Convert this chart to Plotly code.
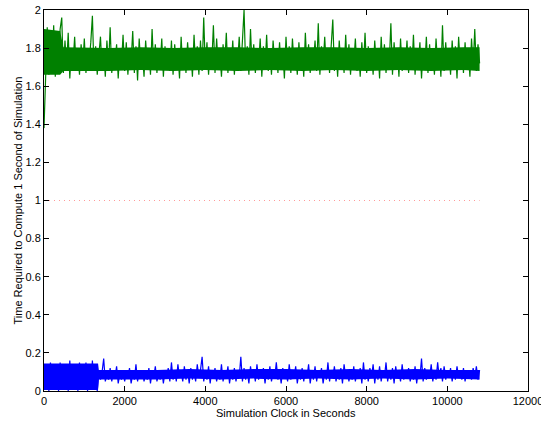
import plotly.graph_objects as go

# Sampling interval of the logged simulation (seconds)
sample_step = 40

green_series = [
    1.38, 1.72, 1.91, 1.66, 1.88, 1.70, 1.92, 1.65, 1.86, 1.69,
    1.90, 1.96, 1.67, 1.84, 1.70, 1.88, 1.64, 1.80, 1.72, 1.86,
    1.68, 1.78, 1.66, 1.82, 1.71, 1.85, 1.67, 1.79, 1.73, 1.83,
    1.97, 1.68, 1.81, 1.66, 1.77, 1.86, 1.69, 1.80, 1.65, 1.84,
    1.70, 1.91, 1.67, 1.78, 1.72, 1.82, 1.64, 1.80, 1.71, 1.87,
    1.68, 1.83, 1.66, 1.79, 1.73, 1.89, 1.67, 1.81, 1.63, 1.85,
    1.70, 1.78, 1.65, 1.84, 1.72, 1.80, 1.66, 1.90, 1.69, 1.82,
    1.67, 1.79, 1.71, 1.85, 1.65, 1.81, 1.70, 1.77, 1.68, 1.84,
    1.66, 1.82, 1.72, 1.78, 1.64, 1.86, 1.69, 1.80, 1.67, 1.83,
    1.71, 1.79, 1.65, 1.87, 1.70, 1.81, 1.66, 1.84, 1.68, 1.96,
    1.69, 1.83, 1.66, 1.80, 1.72, 1.92, 1.67, 1.85, 1.70, 1.78,
    1.65, 1.82, 1.71, 1.88, 1.67, 1.80, 1.69, 1.84, 1.66, 1.79,
    1.72, 1.86, 1.68, 1.83, 2.00, 1.70, 1.81, 1.66, 1.90, 1.69,
    1.82, 1.67, 1.79, 1.71, 1.85, 1.65, 1.81, 1.70, 1.87, 1.68,
    1.78, 1.66, 1.84, 1.72, 1.80, 1.67, 1.83, 1.69, 1.79, 1.64,
    1.86, 1.70, 1.81, 1.67, 1.85, 1.71, 1.78, 1.66, 1.83, 1.69,
    1.80, 1.65, 1.88, 1.70, 1.82, 1.67, 1.79, 1.72, 1.84, 1.68,
    1.93, 1.66, 1.81, 1.71, 1.86, 1.69, 1.79, 1.67, 1.83, 1.95,
    1.68, 1.80, 1.65, 1.84, 1.71, 1.78, 1.67, 1.87, 1.69, 1.82,
    1.66, 1.80, 1.72, 1.85, 1.68, 1.79, 1.65, 1.83, 1.70, 1.88,
    1.67, 1.81, 1.69, 1.78, 1.66, 1.84, 1.71, 1.80, 1.64, 1.86,
    1.69, 1.82, 1.67, 1.79, 1.72, 1.93, 1.66, 1.83, 1.70, 1.80,
    1.65, 1.85, 1.68, 1.78, 1.71, 1.84, 1.67, 1.81, 1.69, 1.87,
    1.66, 1.79, 1.72, 1.83, 1.64, 1.80, 1.70, 1.86, 1.67, 1.82,
    1.69, 1.78, 1.66, 1.85, 1.71, 1.80, 1.65, 1.92, 1.68, 1.83,
    1.70, 1.79, 1.66, 1.84, 1.69, 1.81, 1.64, 1.86, 1.71, 1.80,
    1.67, 1.83, 1.69, 1.78, 1.65, 1.85, 1.70, 1.90, 1.68, 1.82,
    1.72,
]

blue_series = [
    0.14, 0.01, 0.12, 0.00, 0.15, 0.02, 0.13, 0.01, 0.14, 0.00,
    0.15, 0.01, 0.13, 0.02, 0.14, 0.00, 0.16, 0.01, 0.12, 0.02,
    0.14, 0.00, 0.15, 0.01, 0.13, 0.02, 0.15, 0.00, 0.14, 0.01,
    0.16, 0.01, 0.14, 0.00, 0.11, 0.06, 0.10, 0.17, 0.05, 0.09,
    0.06, 0.12, 0.05, 0.10, 0.07, 0.13, 0.04, 0.09, 0.06, 0.11,
    0.05, 0.10, 0.07, 0.12, 0.04, 0.09, 0.06, 0.14, 0.05, 0.10,
    0.07, 0.11, 0.05, 0.09, 0.06, 0.12, 0.04, 0.10, 0.07, 0.13,
    0.05, 0.09, 0.06, 0.11, 0.04, 0.10, 0.07, 0.12, 0.05, 0.15,
    0.06, 0.11, 0.05, 0.14, 0.07, 0.10, 0.05, 0.13, 0.06, 0.11,
    0.04, 0.12, 0.06, 0.10, 0.05, 0.14, 0.07, 0.11, 0.18, 0.05,
    0.10, 0.06, 0.13, 0.04, 0.11, 0.07, 0.12, 0.05, 0.10, 0.06,
    0.14, 0.05, 0.11, 0.07, 0.13, 0.04, 0.10, 0.06, 0.12, 0.05,
    0.11, 0.07, 0.18, 0.05, 0.12, 0.06, 0.10, 0.04, 0.13, 0.07,
    0.11, 0.05, 0.14, 0.06, 0.10, 0.07, 0.12, 0.04, 0.11, 0.06,
    0.13, 0.05, 0.10, 0.07, 0.15, 0.06, 0.11, 0.04, 0.12, 0.07,
    0.10, 0.05, 0.14, 0.06, 0.11, 0.07, 0.13, 0.04, 0.10, 0.06,
    0.12, 0.05, 0.11, 0.07, 0.14, 0.04, 0.10, 0.06, 0.13, 0.05,
    0.11, 0.07, 0.12, 0.04, 0.10, 0.06, 0.15, 0.05, 0.11, 0.07,
    0.13, 0.05, 0.10, 0.06, 0.12, 0.04, 0.14, 0.07, 0.11, 0.05,
    0.10, 0.06, 0.13, 0.05, 0.11, 0.07, 0.12, 0.04, 0.15, 0.06,
    0.10, 0.05, 0.12, 0.07, 0.14, 0.04, 0.11, 0.06, 0.13, 0.05,
    0.11, 0.07, 0.15, 0.05, 0.10, 0.06, 0.12, 0.04, 0.13, 0.07,
    0.10, 0.05, 0.14, 0.06, 0.11, 0.07, 0.12, 0.05, 0.10, 0.06,
    0.13, 0.04, 0.11, 0.07, 0.17, 0.05, 0.12, 0.06, 0.10, 0.07,
    0.14, 0.05, 0.11, 0.06, 0.15, 0.07, 0.12, 0.05, 0.13, 0.06,
    0.10, 0.07, 0.12, 0.05, 0.11, 0.06, 0.13, 0.07, 0.10, 0.06,
    0.12, 0.05, 0.11, 0.07, 0.10, 0.06, 0.12, 0.07, 0.13, 0.06,
    0.11,
]

# Dense core of each noisy band (where the samples overlap into a solid mass)
green_core_t = [0, 400, 480, 1600, 2400, 3200, 4000, 4800, 5600, 6400, 7200, 8000, 8800, 9600, 10400, 10800]
green_core_low = [1.66, 1.66, 1.68, 1.68, 1.685, 1.68, 1.685, 1.68, 1.685, 1.68, 1.685, 1.68, 1.685, 1.68, 1.685, 1.68]
green_core_high = [1.90, 1.89, 1.805, 1.80, 1.805, 1.80, 1.805, 1.805, 1.80, 1.805, 1.805, 1.80, 1.805, 1.80, 1.805, 1.805]

blue_core_t = [0, 600, 1340, 1360, 2000, 2800, 3600, 4400, 5200, 6000, 6800, 7600, 8400, 9200, 10000, 10800]
blue_core_low = [0.005, 0.005, 0.005, 0.06, 0.06, 0.06, 0.065, 0.06, 0.065, 0.06, 0.065, 0.06, 0.065, 0.06, 0.065, 0.06]
blue_core_high = [0.145, 0.145, 0.145, 0.11, 0.11, 0.11, 0.115, 0.11, 0.115, 0.115, 0.11, 0.115, 0.11, 0.115, 0.11, 0.11]

realtime_x = [0, 10800]
realtime_y = [1, 1]

x_ticks = [0, 2000, 4000, 6000, 8000, 10000, 12000]
y_ticks = [0, 0.2, 0.4, 0.6, 0.8, 1, 1.2, 1.4, 1.6, 1.8, 2]
y_tick_labels = ["0", "0.2", "0.4", "0.6", "0.8", "1", "1.2", "1.4", "1.6", "1.8", "2"]

x_title = "Simulation Clock in Seconds"
y_title = "Time Required to Compute 1 Second of Simulation"

green_x = [i * sample_step for i in range(len(green_series))]
blue_x = [i * sample_step for i in range(len(blue_series))]

GREEN = "#008000"
BLUE = "#0000ff"

fig = go.Figure()
fig.add_trace(go.Scatter(x=realtime_x, y=realtime_y, mode="lines",
                         line=dict(color="#ff9a9a", width=1, dash="1px,4px"),
                         showlegend=False, hoverinfo="skip"))

# core bands
fig.add_trace(go.Scatter(x=green_core_t, y=green_core_low, mode="lines",
                         line=dict(color=GREEN, width=0), showlegend=False, hoverinfo="skip"))
fig.add_trace(go.Scatter(x=green_core_t, y=green_core_high, mode="lines", fill="tonexty",
                         fillcolor=GREEN, line=dict(color=GREEN, width=0),
                         showlegend=False, hoverinfo="skip"))
fig.add_trace(go.Scatter(x=blue_core_t, y=blue_core_low, mode="lines",
                         line=dict(color=BLUE, width=0), showlegend=False, hoverinfo="skip"))
fig.add_trace(go.Scatter(x=blue_core_t, y=blue_core_high, mode="lines", fill="tonexty",
                         fillcolor=BLUE, line=dict(color=BLUE, width=0),
                         showlegend=False, hoverinfo="skip"))

fig.add_trace(go.Scatter(x=green_x, y=green_series, mode="lines",
                         line=dict(color=GREEN, width=1.2), showlegend=False))
fig.add_trace(go.Scatter(x=blue_x, y=blue_series, mode="lines",
                         line=dict(color=BLUE, width=1.2), showlegend=False))

font = "Liberation Sans, Arial, Helvetica, sans-serif"
fig.update_layout(
    width=541, height=421,
    margin=dict(l=44, r=13, t=10, b=30),
    paper_bgcolor="white", plot_bgcolor="white",
    font=dict(family=font, size=11, color="black"),
    annotations=[
        dict(text=x_title, xref="paper", yref="paper", x=0.5, y=0, yshift=-22,
             xanchor="center", yanchor="middle", showarrow=False, font=dict(size=11)),
        dict(text=y_title, xref="paper", yref="paper", x=0, y=0.5, xshift=-27,
             xanchor="center", yanchor="middle", textangle=-90, showarrow=False,
             font=dict(size=11)),
    ],
)
fig.update_xaxes(
    range=[0, 12000], tickvals=x_ticks, ticktext=[str(v) for v in x_ticks],
    ticks="inside", ticklen=5, tickcolor="black", showgrid=False, zeroline=False,
    showline=True, linecolor="black", linewidth=1, mirror="ticks",
    automargin=False, ticklabeloverflow="allow", tickfont=dict(size=11),
)
fig.update_yaxes(
    range=[0, 2], tickvals=y_ticks, ticktext=y_tick_labels,
    ticks="inside", ticklen=5, tickcolor="black", showgrid=False, zeroline=False,
    showline=True, linecolor="black", linewidth=1, mirror="ticks",
    automargin=False, ticklabeloverflow="allow", tickfont=dict(size=11),
)

fig.write_html("out.html", config={"displayModeBar": False},
               post_script="document.body.style.margin='0';")
